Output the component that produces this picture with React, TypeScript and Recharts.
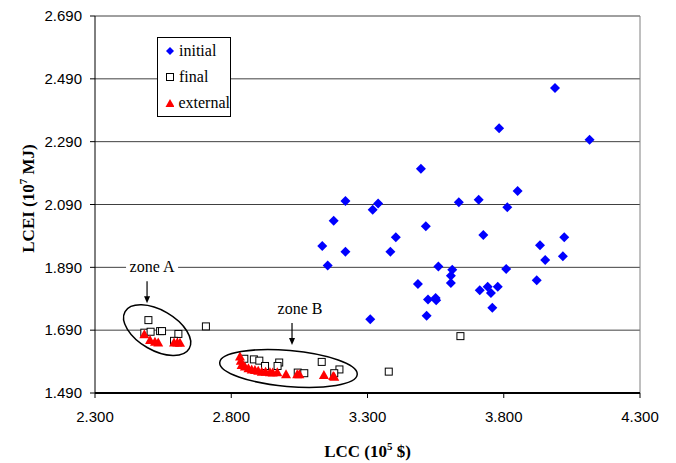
import { ScatterChart, Scatter, XAxis, YAxis, CartesianGrid, ReferenceLine, ReferenceDot } from "recharts"

// LCC (10^5 $), LCEI (10^7 MJ)
const initialPts: [number, number][] = [
  [3.988, 2.461], [3.783, 2.333], [4.115, 2.296], [3.496, 2.204], [3.851, 2.133],
  [3.219, 2.101], [3.339, 2.093], [3.319, 2.073], [3.635, 2.097], [3.708, 2.105],
  [3.813, 2.081], [3.176, 2.038], [3.514, 2.021], [3.404, 1.986], [3.725, 1.993],
  [3.134, 1.958], [3.219, 1.94], [3.384, 1.94], [3.933, 1.96], [4.022, 1.986],
  [3.952, 1.913], [4.017, 1.925], [3.154, 1.896], [3.56, 1.893], [3.611, 1.882],
  [3.606, 1.863], [3.809, 1.885], [3.606, 1.84], [3.921, 1.849], [3.485, 1.837],
  [3.741, 1.828], [3.778, 1.828], [3.712, 1.817], [3.753, 1.808], [3.522, 1.788],
  [3.55, 1.792], [3.552, 1.785], [3.758, 1.761], [3.517, 1.736], [3.31, 1.725],
]

const finalPts: [number, number][] = [
  [2.496, 1.722], [2.481, 1.682], [2.504, 1.685], [2.539, 1.687], [2.546, 1.687],
  [2.606, 1.678], [2.59, 1.656], [2.707, 1.702], [3.641, 1.671], [3.378, 1.558],
  [2.848, 1.599], [2.883, 1.597], [2.903, 1.593], [2.924, 1.576], [2.976, 1.587],
  [2.97, 1.576], [3.044, 1.555], [3.068, 1.553], [3.132, 1.589], [3.197, 1.565],
  [3.178, 1.553],
]

const externalPts: [number, number][] = [
  [2.481, 1.677], [2.502, 1.659], [2.52, 1.653], [2.532, 1.651], [2.59, 1.651],
  [2.602, 1.651], [2.612, 1.65],
  [2.832, 1.606], [2.835, 1.593], [2.838, 1.579], [2.85, 1.574], [2.863, 1.569],
  [2.875, 1.565], [2.887, 1.563], [2.899, 1.561], [2.912, 1.558], [2.926, 1.558],
  [2.942, 1.556], [2.952, 1.555], [2.969, 1.556], [3.001, 1.55], [3.042, 1.55],
  [3.05, 1.55], [3.14, 1.547], [3.174, 1.544], [3.178, 1.542],
]

const xTicks = [2.3, 2.8, 3.3, 3.8, 4.3]
const yTicks = [1.49, 1.69, 1.89, 2.09, 2.29, 2.49, 2.69]

// zone annotations: ellipse centres and arrow tips, in data units
const zones = [
  { name: "zone A", cx: 2.528, cy: 1.69, rx: 37, ry: 20, rot: 30, tipX: 2.491, tipY: 1.776, dx: 5 },
  { name: "zone B", cx: 3.01, cy: 1.568, rx: 69, ry: 18, rot: 5, tipX: 3.023, tipY: 1.643, dx: 8 },
]

const toRows = (pts: [number, number][]) => pts.map(([x, y]) => ({ x, y }))

const serif = "'Liberation Serif', 'Times New Roman', serif"
const sans = "'Liberation Sans', Arial, sans-serif"

function Diamond(p: any) {
  const { cx, cy } = p
  return <polygon points={`${cx},${cy - 5} ${cx + 5},${cy} ${cx},${cy + 5} ${cx - 5},${cy}`} fill="#0000ff" />
}

function Square(p: any) {
  const { cx, cy } = p
  return <rect x={cx - 3.5} y={cy - 3.5} width={7} height={7} fill="#fff" stroke="#000" strokeWidth={1} />
}

function Triangle(p: any) {
  const { cx, cy } = p
  return <polygon points={`${cx},${cy - 5} ${cx + 5},${cy + 4} ${cx - 5},${cy + 4}`} fill="#ff0000" />
}

function LegendBox() {
  const row = { display: "flex", alignItems: "center", height: 26 }
  return (
    <div
      style={{
        position: "absolute",
        left: 157,
        top: 37,
        width: 72,
        height: 78,
        border: "1px solid #000",
        background: "#fff",
        fontFamily: serif,
        fontSize: 16,
        color: "#000",
        boxSizing: "content-box",
      }}
    >
      {[
        { label: "initial", icon: <polygon points="5,1 9,5 5,9 1,5" fill="#0000ff" /> },
        { label: "final", icon: <rect x={1.5} y={1.5} width={7} height={7} fill="#fff" stroke="#000" /> },
        { label: "external", icon: <polygon points="5,1 9.5,9 0.5,9" fill="#ff0000" /> },
      ].map((it) => (
        <div key={it.label} style={row}>
          <svg width={10} height={10} style={{ marginLeft: 7, marginRight: 4 }}>
            {it.icon}
          </svg>
          <span>{it.label}</span>
        </div>
      ))}
    </div>
  )
}

export default function App() {
  return (
    <div style={{ position: "absolute", left: 0, top: 0, width: 676, height: 463 }}>
      <ScatterChart width={676} height={463} margin={{ top: 16, right: 36, bottom: 0, left: 0 }}>
        <CartesianGrid vertical={false} stroke="#404040" />
        <XAxis
          type="number"
          dataKey="x"
          domain={[2.3, 4.3]}
          ticks={xTicks}
          height={70}
          tickSize={5}
          tickMargin={13}
          tickFormatter={(v) => v.toFixed(3)}
          tick={{ fontSize: 15, fontFamily: sans, fill: "#000" }}
          axisLine={{ stroke: "#000", strokeWidth: 2 }}
          tickLine={{ stroke: "#000" }}
          label={{
            content: (props: any) => {
              const vb = props.viewBox
              return (
                <text x={vb.x + vb.width / 2} y={457} textAnchor="middle" fontFamily={serif} fontWeight="bold" fontSize={17} fill="#000">
                  LCC (10
                  <tspan dy={-7} fontSize={11}>5</tspan>
                  <tspan dy={7}> $)</tspan>
                </text>
              )
            },
          }}
        />
        <YAxis
          type="number"
          dataKey="y"
          domain={[1.49, 2.69]}
          ticks={yTicks}
          width={95}
          tickSize={5}
          tickMargin={8}
          tickFormatter={(v) => v.toFixed(3)}
          tick={{ fontSize: 15, fontFamily: sans, fill: "#000" }}
          axisLine={{ stroke: "#000" }}
          tickLine={{ stroke: "#000" }}
          label={{
            content: (props: any) => {
              const vb = props.viewBox
              const cy = vb.y + vb.height / 2 - 6
              return (
                <text x={34} y={cy} transform={`rotate(-90 34 ${cy})`} textAnchor="middle" fontFamily={serif} fontWeight="bold" fontSize={17} fill="#000">
                  LCEI (10
                  <tspan dy={-7} fontSize={11}>7</tspan>
                  <tspan dy={7}> MJ)</tspan>
                </text>
              )
            },
          }}
        />
        <ReferenceLine x={4.3} stroke="#808080" />
        <Scatter name="initial" data={toRows(initialPts)} shape={Diamond} isAnimationActive={false} />
        <Scatter name="final" data={toRows(finalPts)} shape={Square} isAnimationActive={false} />
        <Scatter name="external" data={toRows(externalPts)} shape={Triangle} isAnimationActive={false} />
        {zones.map((z) => (
          <ReferenceDot
            key={z.name + "-ellipse"}
            x={z.cx}
            y={z.cy}
            shape={(p: any) => (
              <ellipse
                cx={p.cx}
                cy={p.cy}
                rx={z.rx}
                ry={z.ry}
                transform={`rotate(${z.rot} ${p.cx} ${p.cy})`}
                fill="none"
                stroke="#000"
                strokeWidth={1.5}
              />
            )}
          />
        ))}
        {zones.map((z) => (
          <ReferenceDot
            key={z.name + "-label"}
            x={z.tipX}
            y={z.tipY}
            shape={(p: any) => (
              <g>
                <rect x={p.cx + z.dx - 26} y={p.cy - 45} width={52} height={18} fill="#fff" />
                <text x={p.cx + z.dx} y={p.cy - 31} textAnchor="middle" fontFamily={serif} fontSize={16} fill="#000">
                  {z.name}
                </text>
                <line x1={p.cx} y1={p.cy - 22} x2={p.cx} y2={p.cy - 5} stroke="#000" strokeWidth={1.2} />
                <polygon points={`${p.cx - 3},${p.cy - 7} ${p.cx + 3},${p.cy - 7} ${p.cx},${p.cy}`} fill="#000" />
              </g>
            )}
          />
        ))}
      </ScatterChart>
      <LegendBox />
    </div>
  )
}
